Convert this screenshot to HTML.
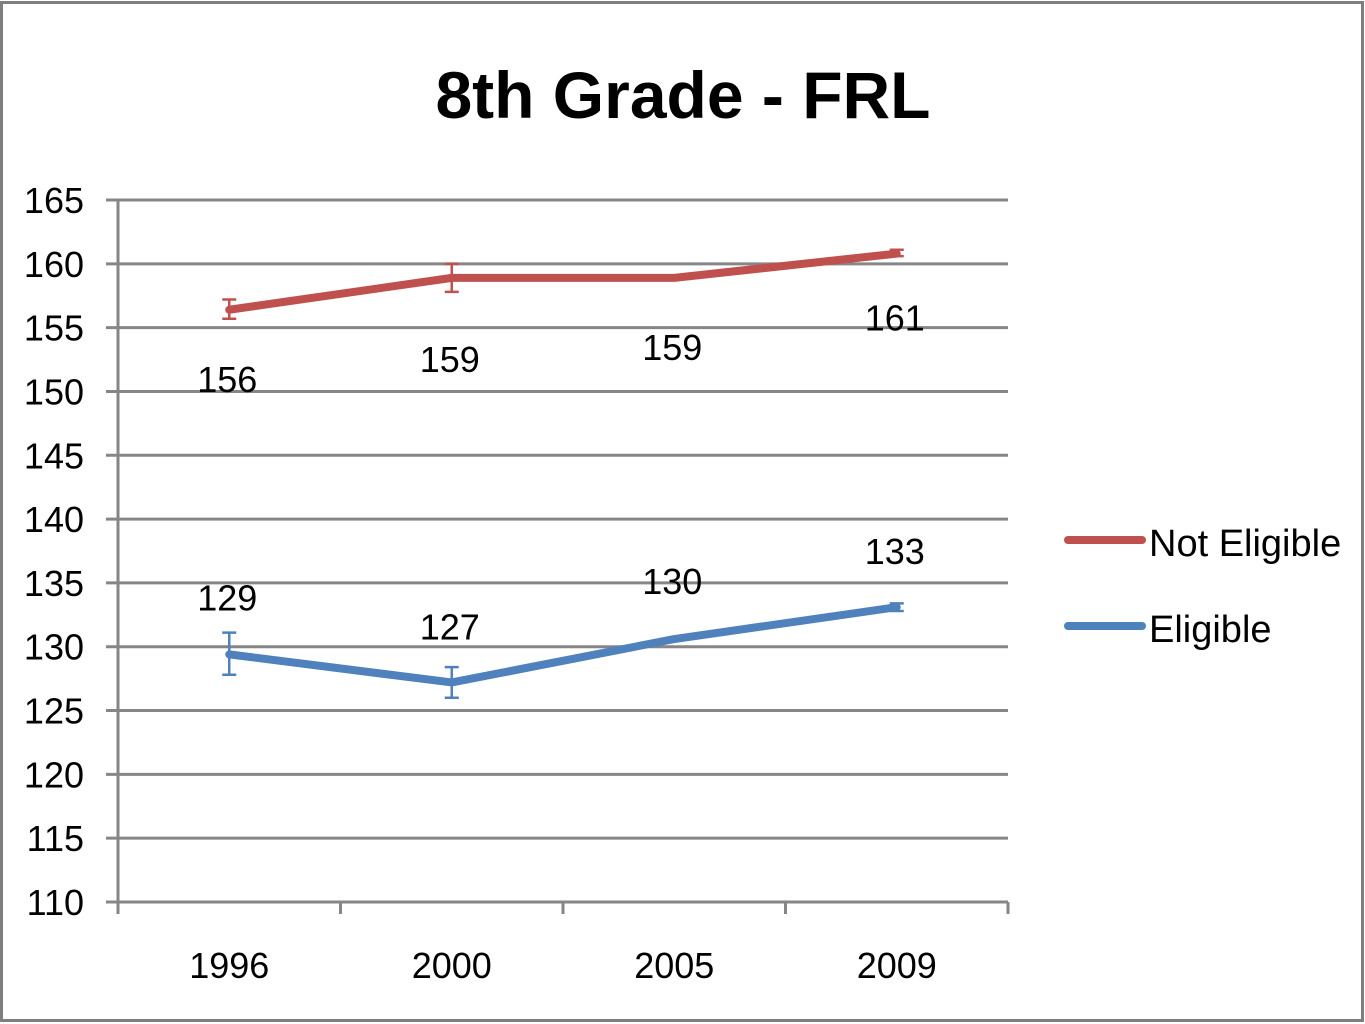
<!DOCTYPE html>
<html><head><meta charset="utf-8"><style>
html,body{margin:0;padding:0;background:#fff;}
svg{display:block;}
text{font-family:"Liberation Sans Narrow","Liberation Sans",sans-serif;}
</style></head><body>
<svg id="chart" width="1365" height="1024" viewBox="0 0 1365 1024" xmlns="http://www.w3.org/2000/svg">
<rect x="1.5" y="2.5" width="1361" height="1018" fill="#fff" stroke="#7f7f7f" stroke-width="3"/>
<text x="683" y="118" font-size="66" font-weight="bold" text-anchor="middle" fill="#000">8th Grade - FRL</text>
<g id="grid"></g>
<g id="axes"></g>
<g id="series"></g>
<g>
<line x1="1068" y1="540" x2="1142" y2="540" stroke="#c0504d" stroke-width="8" stroke-linecap="round"/>
<text x="1149" y="556" font-size="38" fill="#000">Not Eligible</text>
<line x1="1068" y1="626" x2="1142" y2="626" stroke="#4f81bd" stroke-width="8" stroke-linecap="round"/>
<text x="1149" y="642" font-size="38" fill="#000">Eligible</text>
</g>
</svg>
<script>
const categories = ["1996","2000","2005","2009"];
const yTicks = [110,115,120,125,130,135,140,145,150,155,160,165];
const notEligible = [156.4, 158.9, 158.9, 160.8];
const notEligibleErrLow = [155.7, 157.8, 158.8, 160.6];
const notEligibleErrHigh = [157.2, 160.0, 159.0, 161.1];
const notEligibleLabels = ["156","159","159","161"];
const eligible = [129.4, 127.2, 130.6, 133.1];
const eligibleErrLow = [127.8, 126.0, 130.5, 132.8];
const eligibleErrHigh = [131.1, 128.4, 130.7, 133.4];
const eligibleLabels = ["129","127","130","133"];

const NS="http://www.w3.org/2000/svg";
const X0=118,X1=1008,Y0=902,Y1=200,YMIN=110,YMAX=165;
const band=(X1-X0)/categories.length;
function xPos(i){return X0+band*(i+0.5);}
function yPos(v){return Y0-(v-YMIN)/(YMAX-YMIN)*(Y0-Y1);}
function mk(tag,attrs,parent){const e=document.createElementNS(NS,tag);for(const k in attrs)e.setAttribute(k,attrs[k]);parent.appendChild(e);return e;}
const grid=document.getElementById('grid'),axes=document.getElementById('axes'),series=document.getElementById('series');

yTicks.forEach(t=>{
  const y=yPos(t);
  if(t!==YMIN){
    const l=mk('line',{x1:106,x2:X1,y1:y,y2:y,stroke:'#868686','stroke-width':3},grid);
    
    
  }
  const tx=mk('text',{x:84,y:y+13,'font-size':36,'text-anchor':'end',fill:'#000'},axes);
  tx.textContent=t;
  
  
});
const ax=mk('line',{x1:X0,x2:X0,y1:Y1,y2:Y0+10,stroke:'#868686','stroke-width':3},axes);


const bx=mk('line',{x1:106,x2:X1,y1:Y0,y2:Y0,stroke:'#868686','stroke-width':3},axes);


for(let i=0;i<=categories.length;i++){
  const x=X0+band*i;
  const tk=mk('line',{x1:x,x2:x,y1:Y0,y2:Y0+12,stroke:'#868686','stroke-width':3},axes);
  
  
}
categories.forEach((c,i)=>{
  const tx=mk('text',{x:xPos(i),y:978,'font-size':36,'text-anchor':'middle',fill:'#000'},axes);
  tx.textContent=c;
  
  
});

function drawSeries(name,vals,lo,hi,labels,color,labelOffsets){
  const g=mk('g',{},series);
  
  
  const pts=vals.map((v,i)=>xPos(i)+','+yPos(v)).join(' ');
  const pl=mk('polyline',{points:pts,fill:'none',stroke:color,'stroke-width':8,'stroke-linejoin':'round','stroke-linecap':'round'},g);
  
  
  vals.forEach((v,i)=>{
    const x=xPos(i),a=yPos(lo[i]),b=yPos(hi[i]);
    const eb=mk('path',{d:`M${x},${a}V${b}M${x-7},${a}H${x+7}M${x-7},${b}H${x+7}`,stroke:color,'stroke-width':2.5,fill:'none'},g);
    
    
    const t=mk('text',{x:x-2,y:yPos(v)+labelOffsets[i],'font-size':36,'text-anchor':'middle',fill:'#000'},g);
    t.textContent=labels[i];
    
    
  });
}
drawSeries('not-eligible',notEligible,notEligibleErrLow,notEligibleErrHigh,notEligibleLabels,'#c0504d',[82,94,82,77]);
drawSeries('eligible',eligible,eligibleErrLow,eligibleErrHigh,eligibleLabels,'#4f81bd',[-44,-43,-45,-43]);
</script>
</body></html>
